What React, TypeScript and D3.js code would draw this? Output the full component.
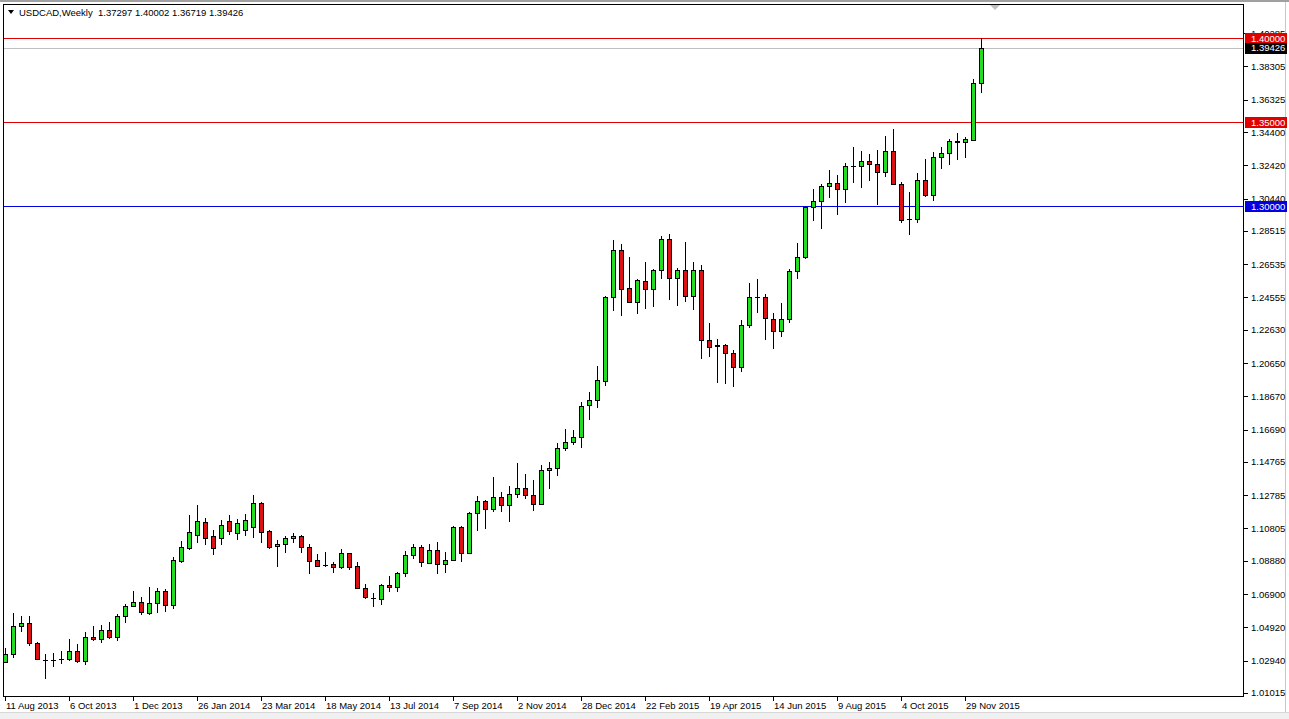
import * as d3 from "d3";

// weekly USDCAD candles, first bar = week of 11 Aug 2013
const openPrices = [
  1.0286, 1.0332, 1.0500, 1.0516, 1.0397, 1.0300, 1.0297, 1.0301, 1.0305, 1.0353,
  1.0290, 1.0433, 1.0421, 1.0476, 1.0433, 1.0560, 1.0619, 1.0643, 1.0576, 1.0635,
  1.0707, 1.0623, 1.0887, 1.0964, 1.1042, 1.1119, 1.1036, 1.1024, 1.1125, 1.1054,
  1.1071, 1.1088, 1.1230, 1.1065, 1.0974, 1.0986, 1.1022, 1.1036, 1.0968, 1.0893,
  1.0864, 1.0869, 1.0849, 1.0933, 1.0857, 1.0724, 1.0669, 1.0663, 1.0744, 1.0730,
  1.0814, 1.0921, 1.0972, 1.0877, 1.0952, 1.0867, 1.0891, 1.1088, 1.0933, 1.1171,
  1.1246, 1.1195, 1.1266, 1.1218, 1.1284, 1.1320, 1.1278, 1.1224, 1.1427, 1.1439,
  1.1558, 1.1593, 1.1623, 1.1814, 1.1843, 1.1960, 1.2457, 1.2738, 1.2510, 1.2427,
  1.2554, 1.2504, 1.2617, 1.2804, 1.2570, 1.2619, 1.2466, 1.2619, 1.2201, 1.2170,
  1.2171, 1.2123, 1.2040, 1.2290, 1.2457, 1.2460, 1.2329, 1.2254, 1.2329, 1.2611,
  1.2695, 1.2996, 1.3030, 1.3117, 1.3135, 1.3103, 1.3236, 1.3240, 1.3266, 1.3250,
  1.3204, 1.3327, 1.3129, 1.2920, 1.2921, 1.3153, 1.3067, 1.3290, 1.3313, 1.3382,
  1.3379, 1.3393, 1.37297,
];
const highPrices = [
  1.0369, 1.0577, 1.0560, 1.0560, 1.0405, 1.0333, 1.0337, 1.0353, 1.0421, 1.0393,
  1.0464, 1.0500, 1.0504, 1.0524, 1.0571, 1.0631, 1.0710, 1.0674, 1.0730, 1.0726,
  1.0718, 1.0911, 1.1006, 1.1161, 1.1220, 1.1143, 1.1071, 1.1131, 1.1161, 1.1137,
  1.1167, 1.1280, 1.1240, 1.1071, 1.1012, 1.1036, 1.1055, 1.1042, 1.0988, 1.0929,
  1.0942, 1.0883, 1.0958, 1.0935, 1.0883, 1.0750, 1.0695, 1.0750, 1.0798, 1.0823,
  1.0946, 1.0988, 1.0982, 1.0988, 1.1000, 1.0942, 1.1095, 1.1095, 1.1179, 1.1274,
  1.1250, 1.1389, 1.1298, 1.1333, 1.1470, 1.1405, 1.1369, 1.1457, 1.1478, 1.1588,
  1.1671, 1.1667, 1.1835, 1.1893, 1.2049, 1.2464, 1.2798, 1.2774, 1.2698, 1.2564,
  1.2667, 1.2625, 1.2823, 1.2833, 1.2633, 1.2786, 1.2668, 1.2649, 1.2305, 1.2208,
  1.2179, 1.2143, 1.2321, 1.2542, 1.2564, 1.2476, 1.2365, 1.2424, 1.2627, 1.2778,
  1.3000, 1.3099, 1.3131, 1.3214, 1.3185, 1.3258, 1.3353, 1.3326, 1.3310, 1.3333,
  1.3417, 1.3458, 1.3145, 1.3085, 1.3195, 1.3280, 1.3321, 1.3353, 1.3399, 1.3433,
  1.3413, 1.3754, 1.40002,
];
const lowPrices = [
  1.0280, 1.0311, 1.0466, 1.0381, 1.0298, 1.0183, 1.0258, 1.0274, 1.0293, 1.0278,
  1.0270, 1.0409, 1.0397, 1.0424, 1.0409, 1.0516, 1.0611, 1.0564, 1.0567, 1.0579,
  1.0583, 1.0603, 1.0875, 1.0952, 1.0994, 1.0982, 1.0923, 1.0982, 1.1042, 1.1012,
  1.1036, 1.1022, 1.0996, 1.0957, 1.0853, 1.0936, 1.0996, 1.0933, 1.0810, 1.0849,
  1.0849, 1.0817, 1.0838, 1.0833, 1.0720, 1.0659, 1.0615, 1.0627, 1.0704, 1.0704,
  1.0793, 1.0901, 1.0853, 1.0869, 1.0808, 1.0817, 1.0887, 1.0883, 1.0927, 1.1067,
  1.1079, 1.1180, 1.1180, 1.1121, 1.1259, 1.1258, 1.1186, 1.1220, 1.1313, 1.1395,
  1.1543, 1.1576, 1.1561, 1.1726, 1.1799, 1.1929, 1.2377, 1.2345, 1.2421, 1.2357,
  1.2385, 1.2401, 1.2567, 1.2440, 1.2405, 1.2427, 1.2381, 1.2088, 1.2099, 1.1945,
  1.1939, 1.1921, 1.2014, 1.2272, 1.2365, 1.2201, 1.2147, 1.2218, 1.2302, 1.2564,
  1.2683, 1.2913, 1.2861, 1.3046, 1.2946, 1.3020, 1.3139, 1.3109, 1.3151, 1.3006,
  1.3174, 1.3125, 1.2897, 1.2829, 1.2901, 1.3052, 1.3032, 1.3220, 1.3244, 1.3274,
  1.3288, 1.3393, 1.36719,
];
const closePrices = [
  1.0333, 1.0500, 1.0516, 1.0397, 1.0302, 1.0298, 1.0299, 1.0303, 1.0353, 1.0290,
  1.0433, 1.0421, 1.0476, 1.0433, 1.0560, 1.0619, 1.0643, 1.0583, 1.0635, 1.0707,
  1.0623, 1.0893, 1.0970, 1.1060, 1.1125, 1.1024, 1.0964, 1.1101, 1.1065, 1.1113,
  1.1131, 1.1230, 1.1060, 1.0972, 1.0986, 1.1022, 1.1036, 1.0968, 1.0889, 1.0859,
  1.0862, 1.0849, 1.0933, 1.0853, 1.0724, 1.0671, 1.0667, 1.0742, 1.0730, 1.0814,
  1.0921, 1.0972, 1.0879, 1.0952, 1.0867, 1.0891, 1.1088, 1.0935, 1.1174, 1.1246,
  1.1195, 1.1266, 1.1218, 1.1284, 1.1320, 1.1278, 1.1224, 1.1427, 1.1439, 1.1558,
  1.1593, 1.1623, 1.1810, 1.1845, 1.1964, 1.2457, 1.2738, 1.2508, 1.2427, 1.2560,
  1.2504, 1.2619, 1.2804, 1.2570, 1.2619, 1.2466, 1.2619, 1.2201, 1.2163, 1.2167,
  1.2123, 1.2040, 1.2290, 1.2457, 1.2460, 1.2332, 1.2254, 1.2329, 1.2611, 1.2696,
  1.2996, 1.3030, 1.3117, 1.3135, 1.3103, 1.3238, 1.3239, 1.3266, 1.3248, 1.3204,
  1.3327, 1.3129, 1.2915, 1.2922, 1.3153, 1.3067, 1.3290, 1.3315, 1.3385, 1.3384,
  1.3397, 1.3730, 1.39426,
];

const dateLabels = [
  "11 Aug 2013", "6 Oct 2013", "1 Dec 2013", "26 Jan 2014", "23 Mar 2014", "18 May 2014",
  "13 Jul 2014", "7 Sep 2014", "2 Nov 2014", "28 Dec 2014", "22 Feb 2015", "19 Apr 2015",
  "14 Jun 2015", "9 Aug 2015", "4 Oct 2015", "29 Nov 2015",
];
const priceTicks = [
  1.40285, 1.38305, 1.36325, 1.344, 1.3242, 1.3044, 1.28515, 1.26535, 1.24555, 1.2263,
  1.2065, 1.1867, 1.1669, 1.14765, 1.12785, 1.10805, 1.0888, 1.069, 1.0492, 1.0294, 1.01015,
];
const levelLines = [
  { price: 1.4, color: "#e00000" },
  { price: 1.35, color: "#e00000" },
  { price: 1.3, color: "#0000e0" },
];
const bidPrice = 1.39426;
const headerText = "USDCAD,Weekly  1.37297 1.40002 1.36719 1.39426";

const W = 1289;
const H = 719;
const plot = { left: 3.5, top: 4.5, right: 1243.5, bottom: 696.5 };
const FONT = "'Liberation Sans', Arial, sans-serif";
const UP = "#22dd22";
const DOWN = "#dd1111";

export default function App() {
  const y = d3.scaleLinear().domain([1.3, 1.4]).range([206, 38]);
  const x = d3.scaleLinear().domain([0, 1]).range([5.5, 13.5]);
  const py = (v: number) => Math.round(y(v)) + 0.5;

  const bars = d3.range(openPrices.length).map((i) => ({
    i,
    o: openPrices[i],
    h: highPrices[i],
    l: lowPrices[i],
    c: closePrices[i],
  }));

  return (
    <svg
      width={W}
      height={H}
      style={{ position: "absolute", left: 0, top: 0, background: "#fff" }}
      fontFamily={FONT}
    >
      <rect x={0} y={0} width={W} height={H} fill="#fff" />
      {/* window frame */}
      <rect x={0} y={0} width={W} height={2} fill="#a0a0a0" />
      <rect x={0} y={712} width={W} height={7} fill="#f0f0f0" />
      <line x1={0} x2={W} y1={712.5} y2={712.5} stroke="#d8d8d8" />
      <line x1={1285.5} x2={1285.5} y1={2} y2={712} stroke="#c8c8c8" />

      <g shapeRendering="crispEdges">
        {/* level lines */}
        {levelLines.map((lv) => (
          <line
            key={lv.price}
            x1={plot.left}
            x2={plot.right}
            y1={py(lv.price)}
            y2={py(lv.price)}
            stroke={lv.color}
          />
        ))}
        <line x1={plot.left} x2={plot.right} y1={py(bidPrice)} y2={py(bidPrice)} stroke="#c0c0c0" />

        {/* candles */}
        {bars.map((b) => {
          const cx = x(b.i);
          const yo = Math.round(y(b.o));
          const yc = Math.round(y(b.c));
          const top = Math.min(yo, yc);
          const hgt = Math.abs(yo - yc);
          return (
            <g key={b.i}>
              <line x1={cx} x2={cx} y1={Math.round(y(b.h))} y2={Math.round(y(b.l))} stroke="#000" />
              {hgt < 1 ? (
                <line x1={cx - 2.5} x2={cx + 2.5} y1={top + 0.5} y2={top + 0.5} stroke="#000" />
              ) : (
                <rect
                  x={cx - 2}
                  y={top + 0.5}
                  width={4}
                  height={hgt}
                  fill={b.c >= b.o ? UP : DOWN}
                  stroke="#000"
                />
              )}
            </g>
          );
        })}

        {/* plot border */}
        <rect
          x={plot.left}
          y={plot.top}
          width={plot.right - plot.left}
          height={plot.bottom - plot.top}
          fill="none"
          stroke="#000"
        />

        {/* price axis ticks */}
        {priceTicks.map((t) => (
          <line key={t} x1={plot.right} x2={plot.right + 4} y1={py(t)} y2={py(t)} stroke="#000" />
        ))}
        {/* date ticks */}
        {dateLabels.map((d, k) => (
          <line
            key={d}
            x1={x(k * 8)}
            x2={x(k * 8)}
            y1={plot.bottom}
            y2={plot.bottom + 4}
            stroke="#000"
          />
        ))}
      </g>

      {/* price labels */}
      {priceTicks.map((t) => (
        <text key={t} x={1251} y={y(t) + 3.5} fontSize={9.5} fill="#000">
          {t.toFixed(5)}
        </text>
      ))}

      {/* level boxes */}
      {[...levelLines, { price: bidPrice, color: "#000" }].map((lv) => (
        <g key={"box" + lv.price}>
          <rect x={1245} y={Math.round(y(lv.price)) - 5} width={42} height={11} fill={lv.color} />
          <text x={1251} y={y(lv.price) + 3.5} fontSize={9.5} fill="#fff">
            {lv.price.toFixed(5)}
          </text>
        </g>
      ))}

      {/* date labels */}
      {dateLabels.map((d, k) => (
        <text key={d} x={x(k * 8) + 0.5} y={709} fontSize={9.5} fill="#000">
          {d}
        </text>
      ))}

      {/* header */}
      <path d="M8,10 L14,10 L11,14 Z" fill="#000" />
      <text x={19} y={16} fontSize={9.5} fill="#000" xmlSpace="preserve">
        {headerText}
      </text>
      {/* shift marker */}
      <path d="M990,5 L1000,5 L995,10 Z" fill="#c0c0c0" />
    </svg>
  );
}
